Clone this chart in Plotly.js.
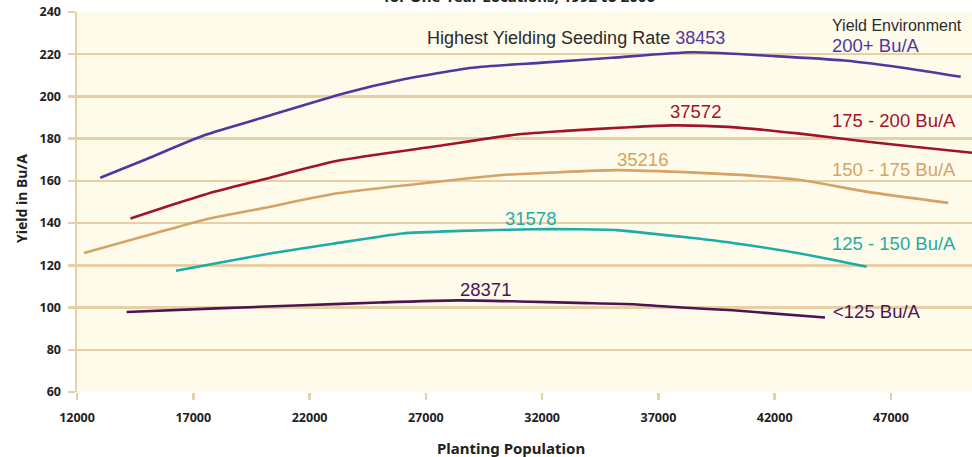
<!DOCTYPE html>
<html>
<head>
<meta charset="utf-8">
<script src="https://cdn.plot.ly/plotly-3.0.1.min.js"></script>
<style>
html,body{margin:0;padding:0;background:#fff;}
#chart{width:972px;height:457px;}
</style>
</head>
<body>
<div id="chart"></div>
<script>
// Planting population (seeds/A) and yield (Bu/A) per yield environment
const x200 = [13000,15000,17500,20000,23500,26000,29000,32000,35000,38453,42000,45000,48000,50000];
const y200 = [161.5,170.4,181.7,190.0,201.5,208.0,213.6,216.0,218.3,220.9,219.1,217.0,212.8,209.3];

const x175 = [14300,16000,17900,20000,23200,27500,31000,33000,35500,37572,40000,43000,46000,48000,50485];
const y175 = [142.2,148.3,154.8,160.7,169.5,176.5,182.1,183.7,185.3,186.3,185.6,182.5,178.5,176.2,173.3];

const x150 = [12300,15000,17400,20000,23200,27500,30200,32500,35216,38800,41000,43100,46000,49466];
const y150 = [125.9,134.1,141.4,147.1,154.1,159.6,162.7,164.0,165.1,163.8,162.5,160.4,154.8,149.6];

const x125 = [16257,18000,20300,23000,26000,28500,31578,33500,35200,38000,40200,43100,45956];
const y125 = [117.4,121.0,125.6,130.2,135.1,136.3,137.1,137.1,136.7,133.5,130.6,125.6,119.3];

const xLow = [14137,18000,21700,25000,28371,31000,33500,35900,38000,40200,44164];
const yLow = [97.9,99.6,101.1,102.4,103.4,102.9,102.2,101.6,100.0,98.7,95.3];

const seriesNames = ["200+ Bu/A","175 - 200 Bu/A","150 - 175 Bu/A","125 - 150 Bu/A","<125 Bu/A"];
const peakRates = ["38453","37572","35216","31578","28371"];
const yTicks = [60,80,100,120,140,160,180,200,220,240];
const xTicks = [12000,17000,22000,27000,32000,37000,42000,47000];

const colors = ["#4e38a0","#a1122c","#d5a365","#1cada6","#4b1552"];
const xs = [x200,x175,x150,x125,xLow];
const ys = [y200,y175,y150,y125,yLow];

const traces = xs.map((x,i)=>({
  x: x, y: ys[i], mode: "lines", type: "scatter", name: seriesNames[i],
  line: {color: colors[i], width: 2.6, shape: "spline", smoothing: 0.6},
  hoverinfo: "skip"
}));

const lblFont = "Liberation Sans, Arial, sans-serif";
const axFont = "Noto Sans, Liberation Sans, sans-serif";
const grid = "#e9cfa6";

const ann = [];
// header
ann.push({x: 26964, y: 227.7, xanchor: "left", yanchor: "middle", showarrow: false,
  text: "Highest Yielding Seeding Rate <span style='color:"+colors[0]+"'>"+peakRates[0]+"</span>",
  font: {family: lblFont, size: 18, color: "#2b2b2b"}});
ann.push({x: 44380, y: 233.8, xanchor: "left", yanchor: "middle", showarrow: false,
  text: "Yield Environment", font: {family: lblFont, size: 16, color: "#2b2b2b"}});
// series labels on right
const lblY = [223.9,188.8,165.6,130.5,98.3];
const lblX = [44380,44380,44380,44380,44422];
seriesNames.forEach((n,i)=>ann.push({x: lblX[i], y: lblY[i], xanchor: "left", yanchor: "middle", showarrow: false,
  text: n.replace("<","&lt;"), font: {family: lblFont, size: 18.5, color: colors[i]}}));
// peak labels
const pkX = [38574,36295,31479,29544];
const pkY = [193.1,170.3,142.4,108.7];
for (let i=1;i<5;i++) ann.push({x: pkX[i-1], y: pkY[i-1], xanchor: "center", yanchor: "middle", showarrow: false,
  text: peakRates[i], font: {family: lblFont, size: 18.5, color: colors[i]}});
// cut-off subtitle at the very top
ann.push({xref: "paper", yref: "paper", x: 0.494, y: 1.0, yshift: 4, xanchor: "center", yanchor: "bottom", showarrow: false,
  text: "<b>for One-Year Locations, 1992 to 2006</b>", font: {family: axFont, size: 15, color: "#222"}});
// axis titles
ann.push({xref: "paper", yref: "paper", x: 0.485, y: 0, yshift: -56, xanchor: "center", yanchor: "middle", showarrow: false,
  text: "<b>Planting Population</b>", font: {family: axFont, size: 15, color: "#222"}});
ann.push({xref: "paper", yref: "paper", x: 0, xshift: -55, y: 0.508, xanchor: "center", yanchor: "middle", showarrow: false,
  textangle: -90, text: "<b>Yield in Bu/A</b>", font: {family: axFont, size: 14, color: "#222"}});

const layout = {
  width: 972, height: 457,
  margin: {l: 77, r: 0, t: 12, b: 65, pad: 0},
  paper_bgcolor: "#ffffff", plot_bgcolor: "#fffbea",
  showlegend: false,
  xaxis: {range: [12000, 50485], tickvals: xTicks, ticktext: xTicks.map(String),
    showgrid: false, zeroline: false, showline: false,
    ticks: "outside", ticklen: 7, tickwidth: 2.5, tickcolor: grid, ticklabelstandoff: 7,
    tickfont: {family: axFont, size: 12.5, color: "#222", weight: "bold"}},
  yaxis: {range: [60, 240], tickvals: yTicks, ticktext: yTicks.map(String),
    showgrid: true, gridcolor: grid, gridwidth: 2.5, zeroline: false,
    showline: true, linecolor: grid, linewidth: 2.5,
    ticks: "outside", ticklen: 7, tickwidth: 2.5, tickcolor: grid, ticklabelstandoff: 4,
    tickfont: {family: axFont, size: 12.5, color: "#222", weight: "bold"}},
  annotations: ann
};

Plotly.newPlot("chart", traces, layout, {displayModeBar: false, staticPlot: true});
</script>
</body>
</html>
